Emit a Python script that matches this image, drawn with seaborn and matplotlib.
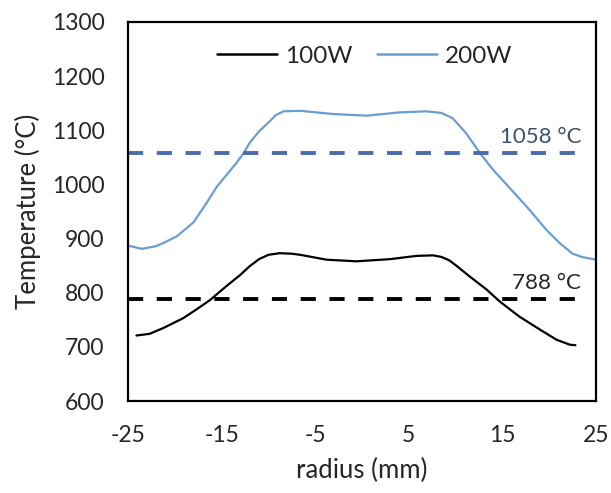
import matplotlib
matplotlib.use("Agg")
import matplotlib.pyplot as plt
import seaborn as sns
import pandas as pd

# ---- data ----
x_100w = [-24.1, -22.7, -21.2, -19.1, -17.7, -16.2, -14.5, -13.0, -12.0, -11.0,
          -10.0, -8.8, -7.5, -6.6, -3.8, -0.6, 3.0, 5.8, 7.6, 8.5, 9.3, 10.0,
          11.5, 13.3, 14.7, 16.8, 19.0, 20.8, 22.2, 22.8]
y_100w = [721, 724, 735, 753, 769, 787, 812, 833, 849, 862,
          870, 873, 872, 870, 861, 858, 862, 868, 869, 866, 860, 851,
          830, 806, 784, 756, 732, 713, 704, 703]

x_200w = [-25.0, -23.5, -22.0, -21.2, -19.8, -18.0, -16.6, -15.5, -14.5, -13.4,
          -12.6, -12.0, -11.0, -10.2, -9.2, -8.4, -6.6, -3.1, 0.5, 4.0, 6.9,
          8.5, 9.7, 11.1, 12.6, 14.0, 15.8, 17.9, 19.7, 21.1, 22.5, 23.5, 25.0]
y_200w = [887, 881, 886, 892, 904, 930, 966, 996, 1017, 1040,
          1059, 1077, 1098, 1111, 1128, 1135, 1136, 1130, 1127, 1133, 1135,
          1132, 1122, 1095, 1058, 1027, 993, 953, 916, 892, 872, 866, 861]

series_names = ["100W", "200W"]
thresh_values = [788, 1058]
thresh_labels = ["788 \u00b0C", "1058 \u00b0C"]
thresh_x = [-25.0, 23.6]

x_ticks = [-25, -15, -5, 5, 15, 25]
y_ticks = [600, 700, 800, 900, 1000, 1100, 1200, 1300]

# ---- build frames ----
df = pd.concat([
    pd.DataFrame({"radius": x_100w, "T": y_100w, "series": series_names[0]}),
    pd.DataFrame({"radius": x_200w, "T": y_200w, "series": series_names[1]}),
], ignore_index=True)

sns.set_theme(style="white")
plt.rcParams["font.family"] = ["Lato", "DejaVu Sans"]

fig = plt.figure(figsize=(6.11, 4.93), dpi=100)
ax = fig.add_axes([0.2095, 0.1866, 0.7660, 0.7688])

palette = {"100W": "#000000", "200W": "#6A9ED3"}
sns.lineplot(data=df, x="radius", y="T", hue="series", palette=palette,
             linewidth=1.6, ax=ax, sort=False, estimator=None)

thresh_colors = ["#000000", "#4B6CAA"]
text_colors = ["#262626", "#3F4E6E"]
for val, col in zip(thresh_values, thresh_colors):
    tdf = pd.DataFrame({"radius": thresh_x, "T": [val, val]})
    sns.lineplot(data=tdf, x="radius", y="T", color=col, linewidth=2.8,
                 ax=ax, legend=False)
    ax.lines[-1].set_dashes([3.9, 3.5])

for val, lab, tc in zip(thresh_values, thresh_labels, text_colors):
    ax.text(thresh_x[1] - 0.2, val + 11, lab, ha="right", va="bottom",
            fontsize=16, color=tc)

ax.set_xlim(-25, 25)
ax.set_ylim(600, 1300)
ax.set_xticks(x_ticks)
ax.set_yticks(y_ticks)
ax.set_xticklabels([str(t) for t in x_ticks])
ax.set_yticklabels([str(t) for t in y_ticks])
ax.tick_params(direction="in", length=6.5, width=1.5, pad=17,
               labelsize=16.5, colors="#000000", labelcolor="#262626")
for sp in ax.spines.values():
    sp.set_visible(True)
    sp.set_color("#000000")
    sp.set_linewidth(1.6)

ax.set_xlabel("radius (mm)", fontsize=18.5, color="#262626", labelpad=9)
ax.set_ylabel("Temperature (\u00b0C)", fontsize=18.5, color="#262626", labelpad=8)

leg = ax.legend(loc="center", bbox_to_anchor=(0.505, 0.91), ncol=2,
                frameon=False, fontsize=17.5, handlelength=2.47,
                handletextpad=0.33, columnspacing=1.0, title=None)
for t in leg.get_texts():
    t.set_color("#262626")
for h in leg.get_lines():
    h.set_linewidth(1.8)

fig.savefig("out.png", dpi=100)
